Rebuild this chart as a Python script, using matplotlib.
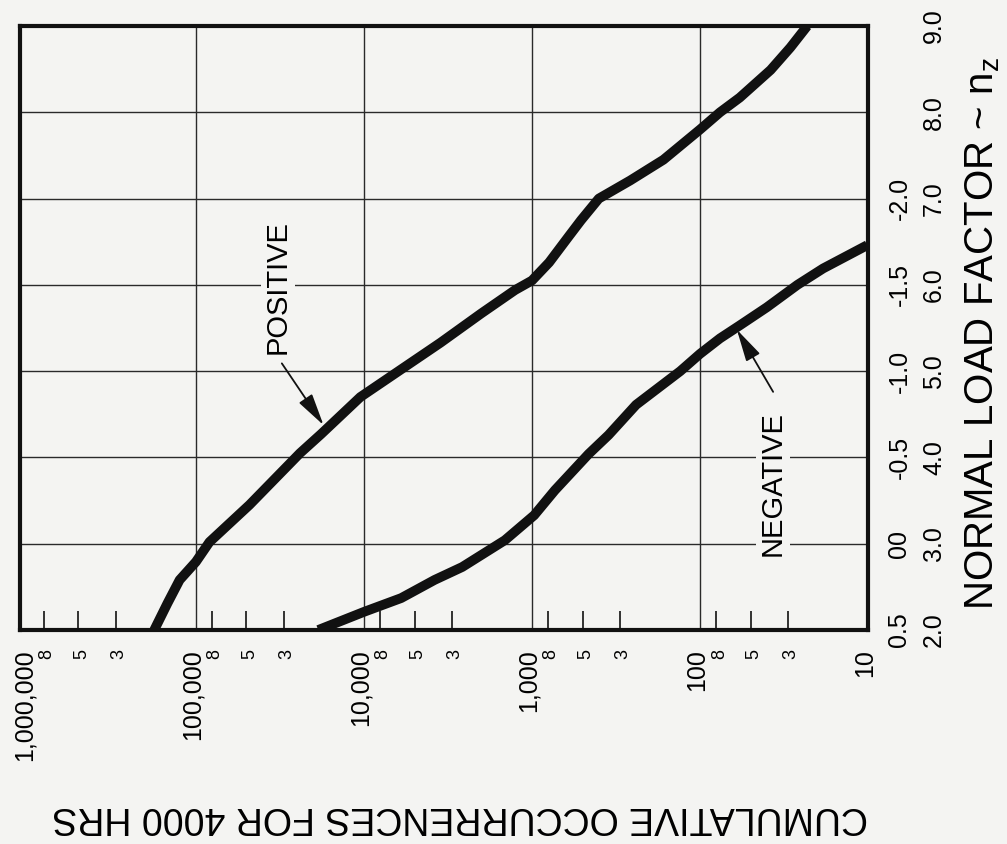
import matplotlib
matplotlib.use('Agg')
import matplotlib.pyplot as plt
from matplotlib.transforms import ScaledTranslation

plt.rcParams['font.family'] = ['Liberation Sans', 'DejaVu Sans']
plt.rcParams['mathtext.fontset'] = 'custom'
plt.rcParams['mathtext.rm'] = 'Liberation Sans'

# positive load factor curve: n_z vs cumulative occurrences
pos_nz = [2.0, 2.31, 2.58, 2.79, 3.02, 3.45, 4.05, 4.27, 4.70, 5.33, 5.67, 5.94,
          6.05, 6.26, 6.56, 6.75, 7.0, 7.21, 7.45, 7.80, 8.0, 8.17, 8.49, 8.75, 9.0]
pos_occ = [177000, 147600, 125000, 100000, 83000, 48000, 24000, 18000, 10500, 3500,
           2000, 1260, 1000, 790, 605, 510, 400, 260, 165, 100, 76, 58, 38, 29, 23]

# negative load factor curve
neg_nz = [0.5, 0.395, 0.315, 0.21, 0.135, -0.02, -0.165, -0.31, -0.52, -0.63,
          -0.805, -1.0, -1.10, -1.19, -1.265, -1.37, -1.5, -1.595, -1.73]
neg_occ = [18700, 10000, 6000, 3800, 2600, 1450, 970, 730, 460, 350,
           240, 131, 100, 76, 58, 40, 26.3, 18.5, 10.1]

# axis ticks
occ_major = [1e6, 1e5, 1e4, 1e3, 1e2, 10]
occ_major_labels = ['1,000,000', '100,000', '10,000', '1,000', '100', '10']
occ_minor_mult = [8, 5, 3]
pos_ticks = [2.0, 3.0, 4.0, 5.0, 6.0, 7.0, 8.0, 9.0]
neg_ticks = [0.5, 0.0, -0.5, -1.0, -1.5, -2.0]
neg_tick_labels = ['0.5', '00', '-0.5', '-1.0', '-1.5', '-2.0']


def neg_to_pos(v):
    # negative n_z scale sits on the same axis: 0.5 -> 2.0, -2.0 -> 7.0
    return 3 - 2 * v


bg = '#f4f4f2'
ink = '#111111'

fig = plt.figure(figsize=(10.07, 8.44), dpi=100, facecolor=bg)
ax = fig.add_axes([20 / 1007, 1 - 630 / 844, 848 / 1007, 604 / 844])
ax.set_facecolor(bg)
ax.set_xscale('log')
ax.set_xlim(1.114e6, 10)
ax.set_ylim(2, 9)

ax.plot(pos_occ, pos_nz, color=ink, lw=7, solid_joinstyle='round', solid_capstyle='butt', zorder=3)
ax.plot(neg_occ, [neg_to_pos(v) for v in neg_nz], color=ink, lw=7,
        solid_joinstyle='round', solid_capstyle='butt', zorder=3)

# grid
for v in occ_major[1:-1]:
    ax.axvline(v, color='#2a2a2a', lw=1.0, zorder=1)
for v in pos_ticks[1:-1]:
    ax.axhline(v, color='#2a2a2a', lw=1.0, zorder=1)

# negative n_z labels
ax2 = ax.twinx()
ax2.set_ylim(2, 9)
ax2.set_yticks([neg_to_pos(v) for v in neg_ticks], labels=neg_tick_labels)
ax2.tick_params(axis='y', length=0, pad=14, labelsize=18, labelrotation=90)
for lbl in ax2.get_yticklabels():
    lbl.set_va('center')
for s in ax2.spines.values():
    s.set_visible(False)

# x ticks (occurrences)
ax.set_xticks(occ_major, labels=occ_major_labels)
minor_pos = []
minor_lab = []
for dec in occ_major[1:]:
    for m in occ_minor_mult:
        minor_pos.append(m * dec)
        minor_lab.append(str(m))
ax.set_xticks(minor_pos, labels=minor_lab, minor=True)
ax.tick_params(axis='x', which='major', length=0, pad=14, labelsize=18, labelrotation=90)
ax.tick_params(axis='x', which='minor', direction='in', length=14, width=1.2,
               color=ink, pad=14, labelsize=13, labelrotation=90)
# nudge labels apart a little, as in the drawing
for t in ax.xaxis.get_major_ticks():
    t.label1.set_transform(t.label1.get_transform() + ScaledTranslation(-3 / 100, 0, fig.dpi_scale_trans))
for t in ax.xaxis.get_minor_ticks():
    t.label1.set_transform(t.label1.get_transform() + ScaledTranslation(3 / 100, 0, fig.dpi_scale_trans))

# y ticks (positive n_z) on the right
ax.set_yticks(pos_ticks, labels=['%.1f' % v for v in pos_ticks])
ax.yaxis.tick_right()
ax.tick_params(axis='y', which='both', left=False, right=True, labelleft=False, labelright=True,
               length=0, pad=39, labelsize=18, labelrotation=90)
for lbl in ax.get_yticklabels():
    lbl.set_va('center')

for s in ax.spines.values():
    s.set_linewidth(3)
    s.set_color(ink)

# curve annotations
ax.text(32500, 5.97, 'POSITIVE', rotation=90, ha='center', va='center', fontsize=21,
        bbox=dict(facecolor=bg, edgecolor='none', pad=2), zorder=4)
ax.annotate('', xy=(17400, 4.375), xytext=(30800, 5.09),
            arrowprops=dict(arrowstyle='-|>,head_length=0.9,head_width=0.22', color=ink,
                            lw=1.3, shrinkA=0, shrinkB=0, mutation_scale=22), zorder=4)
ax.text(36.7, 3.70, 'NEGATIVE', rotation=90, ha='center', va='center', fontsize=21,
        bbox=dict(facecolor=bg, edgecolor='none', pad=2), zorder=4)
ax.annotate('', xy=(60.3, 5.48), xytext=(36.7, 4.76),
            arrowprops=dict(arrowstyle='-|>,head_length=0.9,head_width=0.22', color=ink,
                            lw=1.3, shrinkA=0, shrinkB=0, mutation_scale=22), zorder=4)

# axis titles
fig.text(983 / 1007, 1 - 333 / 844, 'NORMAL LOAD FACTOR ~ $\\mathrm{n_z}$', rotation=90,
         fontsize=29, ha='center', va='center')
fig.text(460 / 1007, 1 - 817 / 844, 'CUMULATIVE OCCURRENCES FOR 4000 HRS', rotation=180,
         fontsize=27, ha='center', va='center')

fig.savefig('out.png', dpi=100, facecolor=bg)
